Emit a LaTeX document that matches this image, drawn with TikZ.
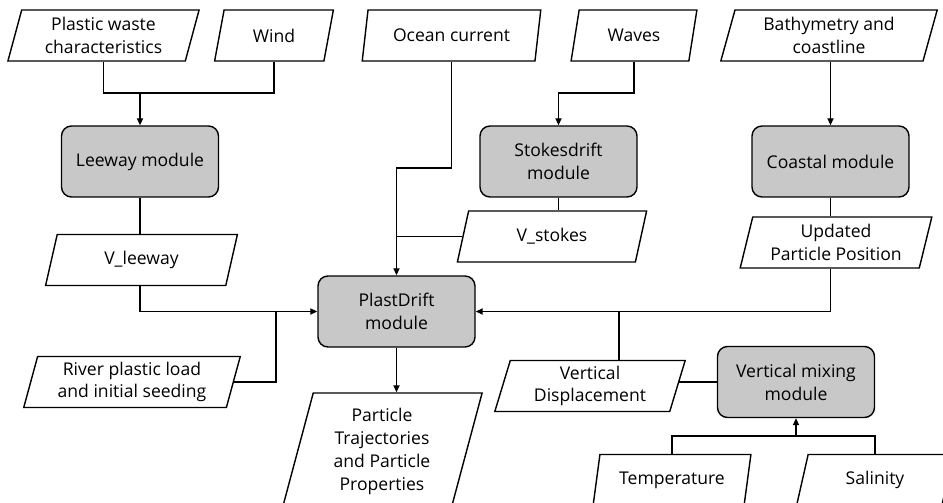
\documentclass[tikz,border=0pt]{standalone}
\usepackage{fontspec}
\setmainfont{Open Sans}
\usetikzlibrary{shapes.geometric,arrows.meta}

\definecolor{modgray}{RGB}{200,200,200}

\tikzset{
  txt/.style={font=\fontsize{10pt}{13pt}\selectfont, align=center},
  databox/.style={txt, trapezium, trapezium left angle=75.7, trapezium right angle=104.3,
    trapezium stretches=true, draw, line width=0.8pt, inner sep=1pt,
    minimum height=51*0.02cm},
  modbox/.style={txt, rectangle, rounded corners=0.2cm, draw, fill=modgray, line width=0.8pt,
    minimum width=157*0.02cm, minimum height=71*0.02cm},
  flow/.style={line width=0.8pt},
  arr/.style={flow, -{Triangle[length=4pt,width=3.5pt]}}
}

\begin{document}
\begin{tikzpicture}[x=0.02cm,y=-0.02cm]
\useasboundingbox (0,0) rectangle (943,503);
\clip (0,0) rectangle (943,503);

% inputs along the top
\node (plastic) at (103.5,35.5) [databox, minimum width=192*0.02cm] {Plastic waste\\characteristics};
\node (wind) at (274,35.5) [databox, minimum width=119*0.02cm] {Wind};
\node (ocean) at (451.5,35.5) [databox, minimum width=179*0.02cm] {Ocean current};
\node (waves) at (634,35.5) [databox, minimum width=126*0.02cm] {Waves};
\node (bathy) at (829,35.5) [databox, minimum width=217*0.02cm] {Bathymetry and\\coastline};

% modules
\node (leeway) at (140,161.5) [modbox] {Leeway module};
\node (stokes) at (558.5,161.5) [modbox] {Stokesdrift\\module};
\node (coastal) at (830.5,161.5) [modbox] {Coastal module};
\node (plast) at (396.5,311.5) [modbox] {PlastDrift\\module};
\node (vmix) at (796,382) [modbox] {Vertical mixing\\module};

% intermediate data
\node (vleeway) at (141.5,260) [databox, minimum width=192*0.02cm] {V\_leeway};
\node (vstokes) at (552,236.5) [databox, minimum width=190*0.02cm] {V\_stokes};
\node (updated) at (836,242.5) [databox, minimum width=192*0.02cm] {Updated\\Particle Position};
\node (river) at (132,382) [databox, minimum width=218*0.02cm] {River plastic load\\and initial seeding};
\node (vdisp) at (590,386) [databox, minimum width=191*0.02cm] {Vertical\\Displacement};
\node (temp) at (672,480) [databox, minimum width=158*0.02cm] {Temperature};
\node (sal) at (875,480) [databox, minimum width=157*0.02cm] {Salinity};
\node (particle) at (382,451.5) [databox, minimum width=201*0.02cm, minimum height=117*0.02cm] {Particle\\Trajectories\\and Particle\\Properties};

% junctions
\coordinate (jleeway) at (140,93);
\coordinate (jstokes) at (558.5,93);
\coordinate (jocean) at (396.5,168);
\coordinate (jriver) at (276,311.5);
\coordinate (jvdisp) at (619,311.5);
\coordinate (jvmix) at (796,436);

% connectors
\draw[flow] (plastic.south) |- (jleeway) -| (wind.south);
\draw[arr] (jleeway) -- (leeway.north);
\draw[flow] (leeway.south) -- (leeway.south |- vleeway.north);
\draw[arr] (vleeway.south -| leeway.south) |- (plast.west);
\draw[flow] (river.east) -| (jriver);

\draw[arr] (ocean.south) |- (jocean) -- (plast.north);
\draw[arr] (waves.south) |- (jstokes) -- (stokes.north);
\draw[flow] (stokes.south) -- (stokes.south |- vstokes.north);
\draw[flow] (vstokes.west) -- (vstokes.west -| jocean);

\draw[arr] (bathy.south -| coastal.south) -- (coastal.north);
\draw[flow] (coastal.south) -- (coastal.south |- updated.north);
\draw[arr] (updated.south -| coastal.south) |- (plast.east);

\draw[flow] (jvdisp) -- (jvdisp |- vdisp.north);
\draw[flow] (vdisp.east |- vmix.west) -- (vmix.west);
\draw[flow] (temp.north) |- (jvmix) -| (sal.north);
\draw[arr] (jvmix) -- (vmix.south);

\draw[arr] (plast.south) -- (plast.south |- particle.north);
\end{tikzpicture}
\end{document}
